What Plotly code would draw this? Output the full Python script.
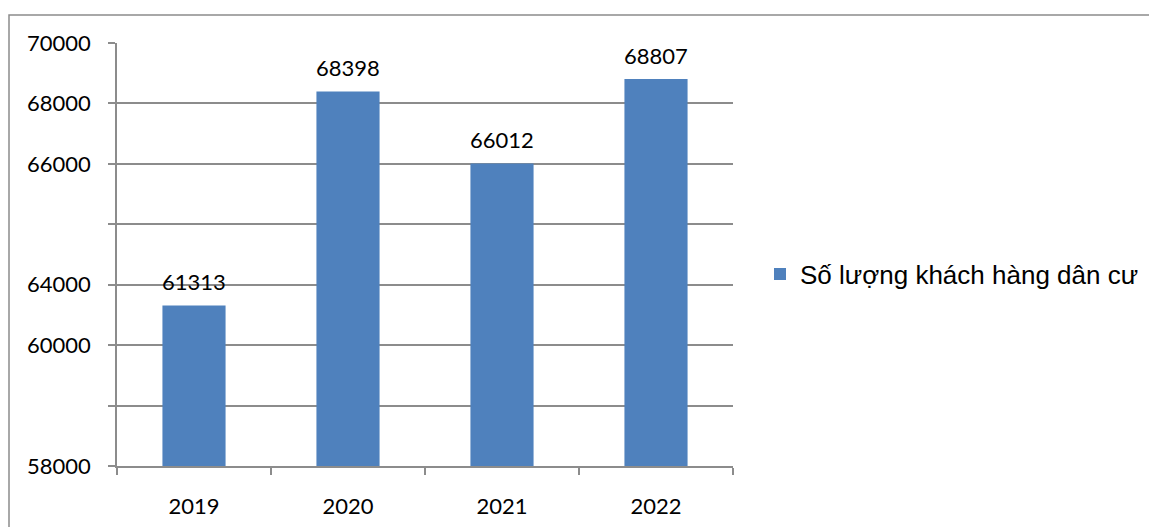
import plotly.graph_objects as go

categories = ["2019", "2020", "2021", "2022"]
values = [61313, 68398, 66012, 68807]
series_name = "Số lượng khách hàng dân cư"
tick_vals = [56000, 58000, 60000, 62000, 64000, 66000, 68000, 70000]
tick_text = ["58000", "", "60000", "64000", "", "66000", "68000", "70000"]

BAR = "#4F81BD"
GRID = "#8C8C8C"

OFF = 8  # page body margin
W, H = 1157 - OFF, 527 - OFF
# target positions in screenshot pixels
SL, SR, ST, SB = 117, 733, 43, 466
L, T = SL - OFF, ST - OFF
R = W - (SR - OFF)
B = H - (SB - OFF)
pw, ph = W - L - R, H - T - B

def px(x):
    return (x - SL) / pw

def py(y):
    return (SB - y) / ph

fig = go.Figure()
fig.add_trace(go.Bar(x=categories, y=values, name=series_name,
                     marker=dict(color=BAR, line=dict(width=0)),
                     showlegend=True))

for i, v in enumerate(values):
    fig.add_annotation(x=i, y=v, text=str(v), showarrow=False,
                       yanchor="bottom", yshift=8,
                       font=dict(family="Lato", size=22, color="#000000"))

fig.add_shape(type="rect", xref="paper", yref="paper",
              x0=px(9), x1=px(1180), y0=py(560), y1=py(15),
              line=dict(color=GRID, width=1.5), fillcolor="rgba(0,0,0,0)")

fig.update_layout(
    width=W, height=H,
    margin=dict(l=L, r=R, t=T, b=B, pad=0, autoexpand=False),
    paper_bgcolor="white", plot_bgcolor="white",
    bargap=0.59,
    font=dict(family="Lato", size=22, color="#000000"),
    legend=dict(x=px(760), y=py(274), xanchor="left", yanchor="middle",
                font=dict(family="Liberation Sans", size=26, color="#000000"),
                bgcolor="rgba(0,0,0,0)"),
    xaxis=dict(type="category", range=[-0.5, 3.5],
               showline=True, linecolor=GRID, linewidth=1.5,
               ticks="outside", tickson="boundaries", ticklen=7,
               tickcolor=GRID, tickwidth=1.5, showgrid=False,
               ticklabelstandoff=20, automargin=False, tickangle=0,
               tickfont=dict(family="Lato", size=22, color="#000000")),
    yaxis=dict(range=[56000, 70000], tickmode="array",
               tickvals=tick_vals, ticktext=tick_text,
               showline=True, linecolor=GRID, linewidth=1.5,
               ticks="outside", ticklen=7, tickcolor=GRID, tickwidth=1.5,
               showgrid=True, gridcolor=GRID, gridwidth=1.5,
               zeroline=False, ticklabelstandoff=13, automargin=False,
               tickfont=dict(family="Lato", size=22, color="#000000")),
)

fig.write_html("out.html")
